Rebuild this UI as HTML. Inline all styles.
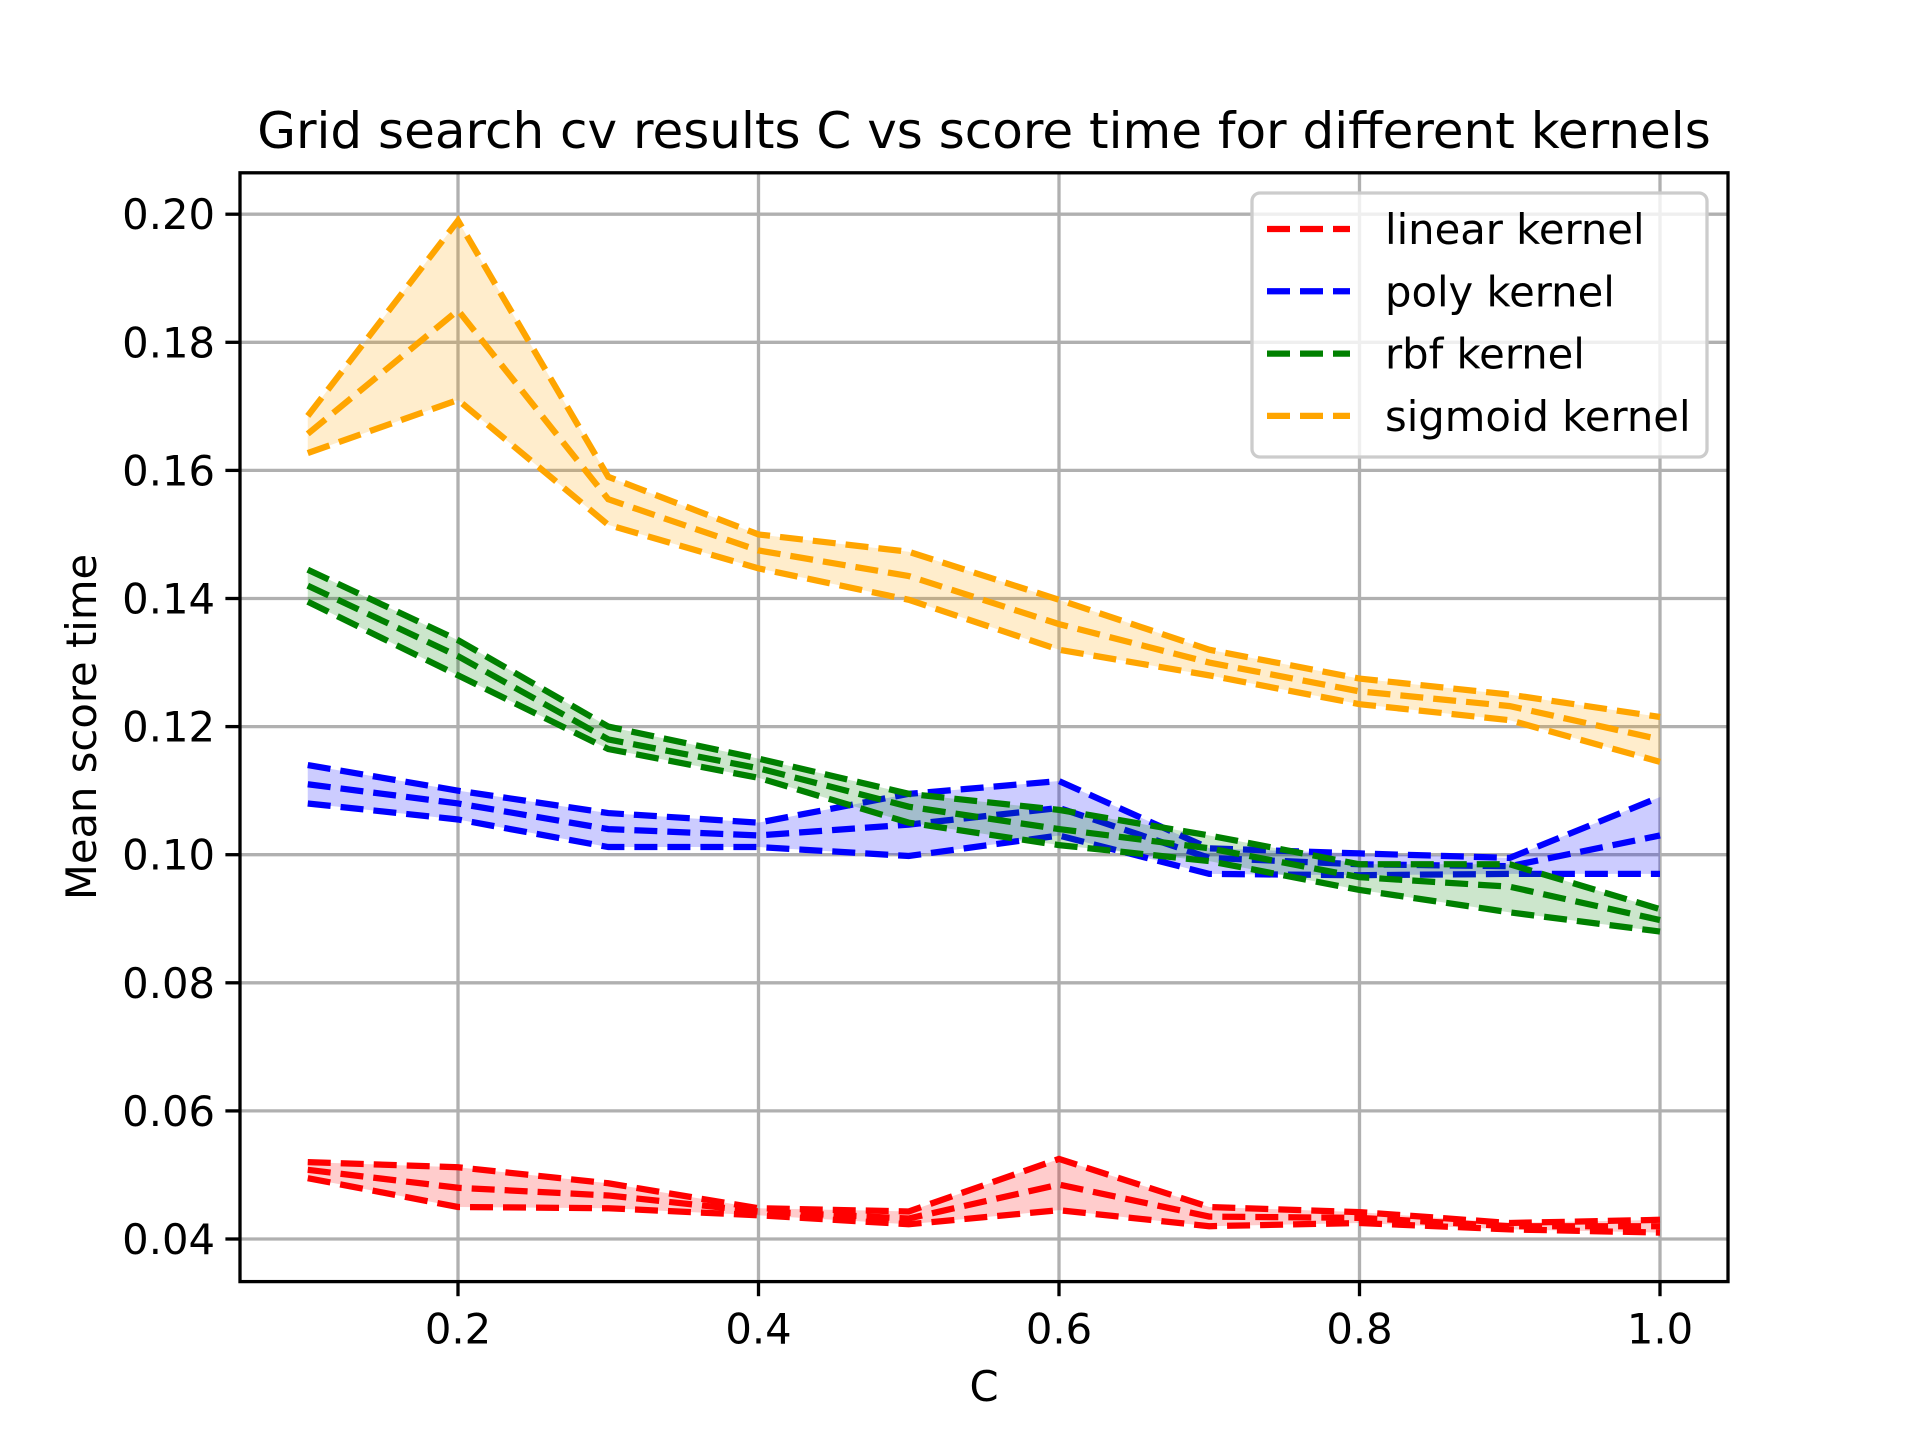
<!DOCTYPE html>
<html><head><meta charset="utf-8"><style>
body{margin:0;background:#fff}
svg{display:block;font-family:"DejaVu Sans","Liberation Sans",sans-serif}
</style></head><body>
<svg id="chart" width="1920" height="1440" viewBox="0 0 1920 1440" xmlns="http://www.w3.org/2000/svg">
<rect width="1920" height="1440" fill="#fff"/>
<g id="grid"></g>
<g id="series"></g>
<rect x="240" y="172.8" width="1488" height="1108.8" fill="none" stroke="#000" stroke-width="3.3"/>
<g id="ticks"></g>
<text x="984" y="148" font-size="50" text-anchor="middle">Grid search cv results C vs score time for different kernels</text>
<text x="984" y="1401" font-size="41.7" text-anchor="middle">C</text>
<text transform="translate(96,727) rotate(-90)" font-size="41.7" text-anchor="middle">Mean score time</text>
<g id="legend"></g>
</svg>
<script>
const xValues=[0.1,0.2,0.3,0.4,0.5,0.6,0.7,0.8,0.9,1.0];
const xTicks=[0.2,0.4,0.6,0.8,1.0];
const xTickLabels=["0.2","0.4","0.6","0.8","1.0"];
const yTicks=[0.04,0.06,0.08,0.10,0.12,0.14,0.16,0.18,0.20];
const yTickLabels=["0.04","0.06","0.08","0.10","0.12","0.14","0.16","0.18","0.20"];
const seriesNames=["linear kernel","poly kernel","rbf kernel","sigmoid kernel"];
const seriesColors=["#ff0000","#0000ff","#008000","#ffa500"];
const linearMean=[0.0508,0.048,0.0468,0.0443,0.0432,0.0485,0.0435,0.0433,0.042,0.042];
const linearUpper=[0.052,0.0512,0.0487,0.0448,0.0443,0.0525,0.045,0.0442,0.0425,0.043];
const linearLower=[0.0495,0.045,0.0448,0.0437,0.0423,0.0445,0.042,0.0425,0.0415,0.041];
const polyMean=[0.111,0.108,0.104,0.103,0.1047,0.1073,0.0995,0.0985,0.0982,0.103];
const polyUpper=[0.114,0.110,0.1065,0.105,0.1095,0.1115,0.101,0.1002,0.0995,0.109];
const polyLower=[0.108,0.1055,0.1012,0.1012,0.0998,0.103,0.097,0.0968,0.097,0.097];
const rbfMean=[0.142,0.131,0.118,0.1135,0.1075,0.104,0.101,0.0965,0.095,0.0898];
const rbfUpper=[0.1445,0.1335,0.120,0.115,0.1095,0.107,0.103,0.0985,0.0985,0.0915];
const rbfLower=[0.1395,0.128,0.1165,0.112,0.105,0.1015,0.099,0.0945,0.091,0.088];
const sigMean=[0.1657,0.185,0.1555,0.1475,0.1435,0.136,0.130,0.1255,0.1232,0.118];
const sigUpper=[0.1685,0.199,0.159,0.150,0.1473,0.1398,0.132,0.1275,0.125,0.1215];
const sigLower=[0.1627,0.171,0.1515,0.1447,0.1398,0.132,0.128,0.1235,0.121,0.1145];
const allSeries=[[linearMean,linearUpper,linearLower],[polyMean,polyUpper,polyLower],[rbfMean,rbfUpper,rbfLower],[sigMean,sigUpper,sigLower]];

const X0=240,X1=1728,Y0=1281.6,Y1=172.8;
const xs=v=>307.75+(v-0.1)*1502.5;
const ys=v=>1239-(v-0.04)*6405;
const NS="http://www.w3.org/2000/svg";
function mk(tag,attrs,parent){const e=document.createElementNS(NS,tag);for(const k in attrs)e.setAttribute(k,attrs[k]);parent.appendChild(e);return e;}
const grid=document.getElementById('grid'),ticks=document.getElementById('ticks'),ser=document.getElementById('series'),leg=document.getElementById('legend');
xTicks.forEach((t,i)=>{
 const g=mk('line',{x1:xs(t),x2:xs(t),y1:Y1,y2:Y0,stroke:'#b0b0b0','stroke-width':3.3},grid);
 
 
 mk('line',{x1:xs(t),x2:xs(t),y1:Y0,y2:Y0+14.6,stroke:'#000','stroke-width':3.3},ticks);
 const tx=mk('text',{x:xs(t),y:Y0+62,'font-size':41.7,'text-anchor':'middle'},ticks);
 tx.textContent=xTickLabels[i];
 
 
});
yTicks.forEach((t,i)=>{
 const g=mk('line',{x1:X0,x2:X1,y1:ys(t),y2:ys(t),stroke:'#b0b0b0','stroke-width':3.3},grid);
 
 
 mk('line',{x1:X0-14.6,x2:X0,y1:ys(t),y2:ys(t),stroke:'#000','stroke-width':3.3},ticks);
 const tx=mk('text',{x:X0-25,y:ys(t)+15,'font-size':41.7,'text-anchor':'end'},ticks);
 tx.textContent=yTickLabels[i];
 
 
});
const pts=a=>a.map((v,i)=>xs(xValues[i])+','+ys(v)).join(' ');
allSeries.forEach((s,k)=>{
 const c=seriesColors[k];
 const up=s[1].map((v,i)=>xs(xValues[i])+','+ys(v));
 const lo=s[2].map((v,i)=>xs(xValues[i])+','+ys(v)).reverse();
 const band=mk('polygon',{points:up.concat(lo).join(' '),fill:c,'fill-opacity':0.2,stroke:'none'},ser);
 
 
 s.forEach((arr,j)=>{
  const l=mk('polyline',{points:pts(arr),fill:'none',stroke:c,'stroke-width':6.25,'stroke-dasharray':'23 10'},ser);
  
  
 });
});
const box=mk('rect',{x:1252,y:193,width:455,height:264,rx:8,fill:'#fff','fill-opacity':0.8,stroke:'#cccccc','stroke-width':3.3},leg);


seriesNames.forEach((n,i)=>{
 const y=229+i*62.3;
 const l=mk('line',{x1:1267,x2:1350,y1:y,y2:y,stroke:seriesColors[i],'stroke-width':6.25,'stroke-dasharray':'23 10'},leg);
 
 
 const t=mk('text',{x:1385,y:y+15,'font-size':41.7},leg);
 t.textContent=n;
 
 
});
</script>
</body></html>
